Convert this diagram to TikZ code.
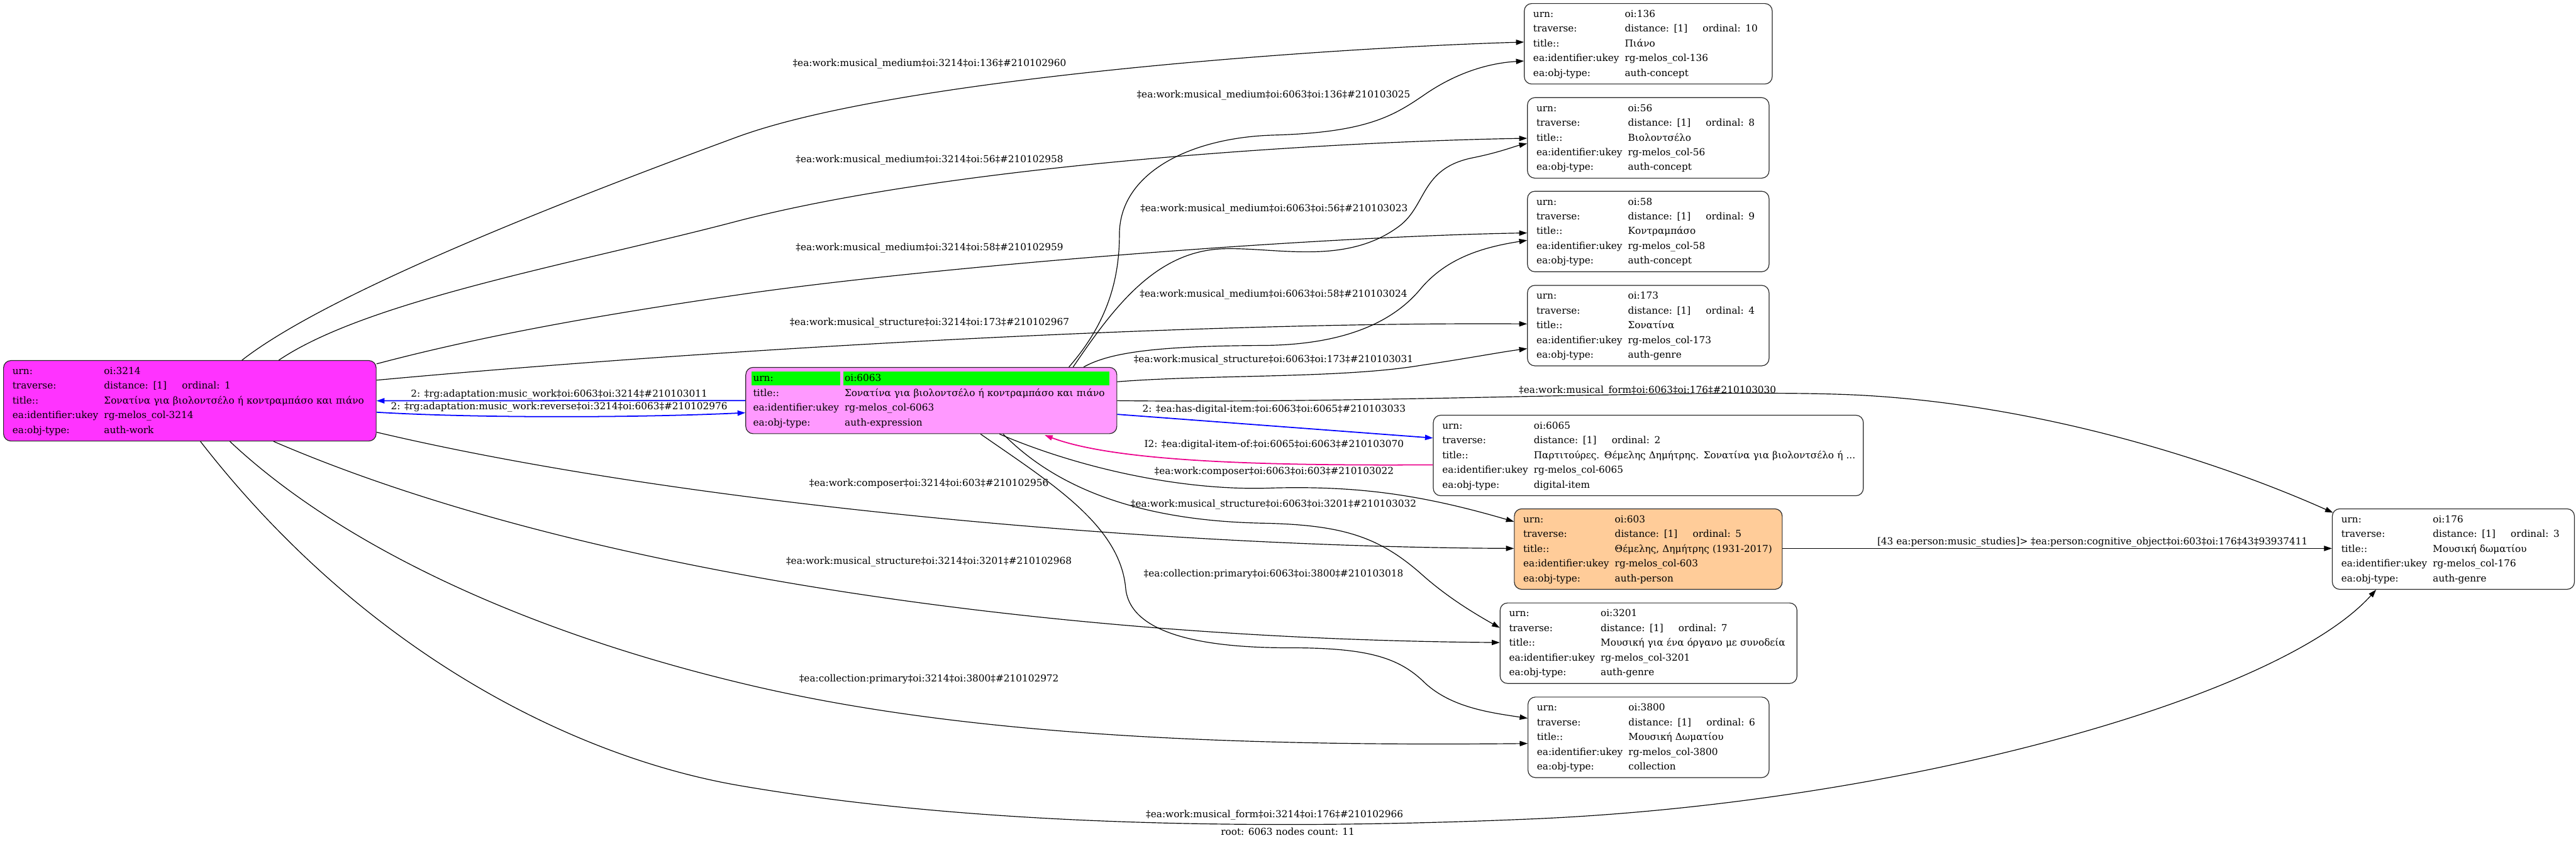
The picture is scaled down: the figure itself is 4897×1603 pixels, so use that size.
\documentclass[tikz,border=0pt]{standalone}
\usepackage{fontspec}
\setmainfont{DejaVu Serif}
\usetikzlibrary{arrows.meta}

\definecolor{workfill}{RGB}{255,51,255}
\definecolor{exprfill}{RGB}{255,153,255}
\definecolor{urngreen}{RGB}{0,255,0}
\definecolor{personfill}{RGB}{255,204,153}
\newcommand{\graphfont}{\fontsize{5.2pt}{7.97pt}\selectfont}
\newcommand{\cardtab}[5]{\noindent\begin{tabular}{@{}p{1.74cm}@{}l@{}}
urn: & oi:#1\\
traverse: & \makebox[1.48cm][l]{distance: [1]}ordinal: #2\\
title:: & #3\\
ea:identifier:ukey & rg-melos\_col-#4\\
ea:obj-type: & #5
\end{tabular}}

\begin{document}
\begin{tikzpicture}[x=0.01cm, y=-0.01cm, >={Triangle[length=0.15cm, width=0.1cm]},
  every node/.style={font=\graphfont},
  card/.style={draw=black!85, rounded corners=0.14cm, inner xsep=0.17cm, inner ysep=0pt, minimum height=1.53cm, anchor=north west, align=left},
  lbl/.style={inner sep=0pt},
  rel/.style={->, line width=0.4pt},
  adapt/.style={->, blue, line width=0.6pt},
  itemof/.style={->, magenta, line width=0.6pt}]
  \useasboundingbox (0,0) rectangle (4897,1603);

  \node[card, fill=workfill, text width=6.74cm] (w3214) at (6,685) {\cardtab{3214}{1}{Σονατίνα για βιολοντσέλο ή κοντραμπάσο και πιάνο}{3214}{auth-work}};
  \node[card, fill=exprfill, text width=6.77cm, inner xsep=0.14cm, minimum height=1.26cm,
    path picture={\fill[urngreen, sharp corners] ([shift={(11,8)}]path picture bounding box.north west) rectangle ++(169,26);
                  \fill[urngreen, sharp corners] ([shift={(185,8)}]path picture bounding box.north west) rectangle ++(506,26);}] (e6063) at (1417,698)
    {\noindent\begin{tabular}{@{}p{1.74cm}@{}l@{}}
     urn: & oi:6063\\
     title:: & Σονατίνα για βιολοντσέλο ή κοντραμπάσο και πιάνο\\
     ea:identifier:ukey & rg-melos\_col-6063\\
     ea:obj-type: & auth-expression
     \end{tabular}};
  \node[card, text width=4.37cm] (c136) at (2897,6) {\cardtab{136}{10}{Πιάνο}{136}{auth-concept}};
  \node[card, text width=4.25cm] (c56) at (2903,185) {\cardtab{56}{8}{Βιολοντσέλο}{56}{auth-concept}};
  \node[card, text width=4.25cm] (c58) at (2903,363) {\cardtab{58}{9}{Κοντραμπάσο}{58}{auth-concept}};
  \node[card, text width=4.25cm] (g173) at (2903,542) {\cardtab{173}{4}{Σονατίνα}{173}{auth-genre}};
  \node[card, text width=7.83cm] (d6065) at (2724,789) {\cardtab{6065}{2}{Παρτιτούρες. Θέμελης Δημήτρης. Σονατίνα για βιολοντσέλο ή ...}{6065}{digital-item}};
  \node[card, fill=personfill, text width=4.75cm] (p603) at (2878,967) {\cardtab{603}{5}{Θέμελης, Δημήτρης (1931-2017)}{603}{auth-person}};
  \node[card, text width=4.26cm] (g176) at (4433,967) {\cardtab{176}{3}{Μουσική δωματίου}{176}{auth-genre}};
  \node[card, text width=5.30cm] (g3201) at (2851,1146) {\cardtab{3201}{7}{Μουσική για ένα όργανο με συνοδεία}{3201}{auth-genre}};
  \node[card, text width=4.24cm] (c3800) at (2904,1325) {\cardtab{3800}{6}{Μουσική Δωματίου}{3800}{collection}};

  \draw[rel] ([shift={(454,0)}]w3214.north west) .. controls (620,560) and (1050,390) .. (1400,261) .. controls (1700,150) and (2500,92) .. ([shift={(0,74)}]c136.north west);
  \draw[rel] ([shift={(524,0)}]w3214.north west) .. controls (700,570) and (1100,500) .. (1400,421) .. controls (1800,316) and (2500,270) .. ([shift={(0,78)}]c56.north west);
  \draw[rel] ([shift={(0,7)}]w3214.north east) .. controls (950,630) and (1200,590) .. (1429,557) .. controls (1800,505) and (2500,450) .. ([shift={(0,80)}]c58.north west);
  \draw[rel] ([shift={(0,38)}]w3214.north east) .. controls (1400,660) and (2300,612) .. ([shift={(0,74)}]g173.north west);
  \draw[adapt] (e6063.west) -- (w3214.east);
  \draw[adapt] ([shift={(0,99)}]w3214.north east) .. controls (900,795) and (1200,795) .. ([shift={(0,87)}]e6063.north west);
  \draw[rel] ([shift={(0,137)}]w3214.north east) .. controls (1300,960) and (2200,1040) .. ([shift={(0,76)}]p603.north west);
  \draw[rel] ([shift={(514,0)}]w3214.south west) .. controls (1100,1090) and (2000,1215) .. ([shift={(0,76)}]g3201.north west);
  \draw[rel] ([shift={(431,0)}]w3214.south west) .. controls (650,1040) and (1000,1200) .. (1400,1297) .. controls (1800,1395) and (2300,1420) .. ([shift={(0,89)}]c3800.north west);
  \draw[rel] ([shift={(375,0)}]w3214.south west) .. controls (700,1250) and (1100,1440) .. (1400,1493) .. controls (1900,1580) and (2500,1575) .. (2900,1558) .. controls (3600,1530) and (4330,1330) .. ([shift={(84,0)}]g176.south west);

  \draw[rel] ([shift={(615,0)}]e6063.north west) .. controls (2100,620) and (2128,540) .. (2128,446) .. controls (2128,330) and (2260,262) .. (2420,257) .. controls (2600,252) and (2650,220) .. (2711,178) .. controls (2770,138) and (2830,120) .. ([shift={(0,110)}]c136.north west);
  \draw[rel] ([shift={(623,0)}]e6063.north west) .. controls (2120,580) and (2200,475) .. (2330,473) .. controls (2430,471) and (2560,505) .. (2660,430) .. controls (2713,390) and (2700,320) .. (2800,300) .. controls (2850,290) and (2880,278) .. ([shift={(0,88)}]c56.north west);
  \draw[rel] ([shift={(643,0)}]e6063.north west) .. controls (2110,670) and (2200,658) .. (2400,657) .. controls (2560,656) and (2650,610) .. (2700,550) .. controls (2750,490) and (2820,470) .. ([shift={(0,94)}]c58.north west);
  \draw[rel] ([shift={(0,28)}]e6063.north east) .. controls (2300,712) and (2550,720) .. (2700,695) .. controls (2800,680) and (2850,670) .. ([shift={(0,121)}]g173.north west);
  \draw[rel] ([shift={(0,64)}]e6063.north east) .. controls (2600,768) and (3200,740) .. (3500,750) .. controls (3850,762) and (4200,870) .. ([shift={(2,8)}]g176.north west);
  \draw[adapt] ([shift={(0,90)}]e6063.north east) -- ([shift={(0,44)}]d6065.north west);
  \draw[itemof] ([shift={(0,95)}]d6065.north west) .. controls (2400,886) and (2120,878) .. ([shift={(569,2)}]e6063.south west);
  \draw[rel] ([shift={(483,0)}]e6063.south west) .. controls (2050,890) and (2250,935) .. (2420,928) .. controls (2580,924) and (2700,940) .. ([shift={(0,25)}]p603.north west);
  \draw[rel] ([shift={(490,0)}]e6063.south west) .. controls (2000,920) and (2150,990) .. (2400,995) .. controls (2550,998) and (2620,1020) .. (2700,1090) .. controls (2750,1135) and (2800,1165) .. ([shift={(0,48)}]g3201.north west);
  \draw[rel] ([shift={(447,0)}]e6063.south west) .. controls (2000,920) and (2130,1000) .. (2140,1120) .. controls (2150,1210) and (2300,1232) .. (2450,1232) .. controls (2600,1232) and (2660,1250) .. (2710,1300) .. controls (2760,1345) and (2830,1355) .. ([shift={(0,41)}]c3800.north west);
  \draw[rel] ([shift={(0,76)}]p603.north east) -- ([shift={(0,76)}]g176.north west);

  \node[lbl] (medw136) at (1767,121) {‡ea:work:musical\_medium‡oi:3214‡oi:136‡\#210102960};
  \node[lbl] (medx136) at (2421,181) {‡ea:work:musical\_medium‡oi:6063‡oi:136‡\#210103025};
  \node[lbl] (medw56) at (1767,304) {‡ea:work:musical\_medium‡oi:3214‡oi:56‡\#210102958};
  \node[lbl] (medx56) at (2422,398) {‡ea:work:musical\_medium‡oi:6063‡oi:56‡\#210103023};
  \node[lbl] (medw58) at (1767,472) {‡ea:work:musical\_medium‡oi:3214‡oi:58‡\#210102959};
  \node[lbl] (medx58) at (2421,560) {‡ea:work:musical\_medium‡oi:6063‡oi:58‡\#210103024};
  \node[lbl] (strw173) at (1767,614) {‡ea:work:musical\_structure‡oi:3214‡oi:173‡\#210102967};
  \node[lbl] (strx173) at (2421,685) {‡ea:work:musical\_structure‡oi:6063‡oi:173‡\#210103031};
  \node[lbl] (formx176) at (3132,743) {‡ea:work:musical\_form‡oi:6063‡oi:176‡\#210103030};
  \node[lbl] (adaptw) at (1063,750) {2: ‡rg:adaptation:music\_work‡oi:6063‡oi:3214‡\#210103011};
  \node[lbl] (adaptrev) at (1063,774) {2: ‡rg:adaptation:music\_work:reverse‡oi:3214‡oi:6063‡\#210102976};
  \node[lbl] (hasitem) at (2422,779) {2: ‡ea:has-digital-item:‡oi:6063‡oi:6065‡\#210103033};
  \node[lbl] (itemof) at (2422,846) {I2: ‡ea:digital-item-of:‡oi:6065‡oi:6063‡\#210103070};
  \node[lbl] (compx603) at (2422,897) {‡ea:work:composer‡oi:6063‡oi:603‡\#210103022};
  \node[lbl] (compw603) at (1766,920) {‡ea:work:composer‡oi:3214‡oi:603‡\#210102956};
  \node[lbl] (strx3201) at (2421,960) {‡ea:work:musical\_structure‡oi:6063‡oi:3201‡\#210103032};
  \node[lbl] (strw3201) at (1766,1068) {‡ea:work:musical\_structure‡oi:3214‡oi:3201‡\#210102968};
  \node[lbl] (collx3800) at (2421,1092) {‡ea:collection:primary‡oi:6063‡oi:3800‡\#210103018};
  \node[lbl] (collw3800) at (1766,1292) {‡ea:collection:primary‡oi:3214‡oi:3800‡\#210102972};
  \node[lbl] (formw176) at (2423,1550) {‡ea:work:musical\_form‡oi:3214‡oi:176‡\#210102966};
  \node[lbl, anchor=west] (study) at (3568,1031) {[43 ea:person:music\_studies]> ‡ea:person:cognitive\_object‡oi:603‡oi:176‡43‡93937411};
  \node[lbl] (root) at (2448,1582) {root: 6063 nodes count: 11};
\end{tikzpicture}
\end{document}
